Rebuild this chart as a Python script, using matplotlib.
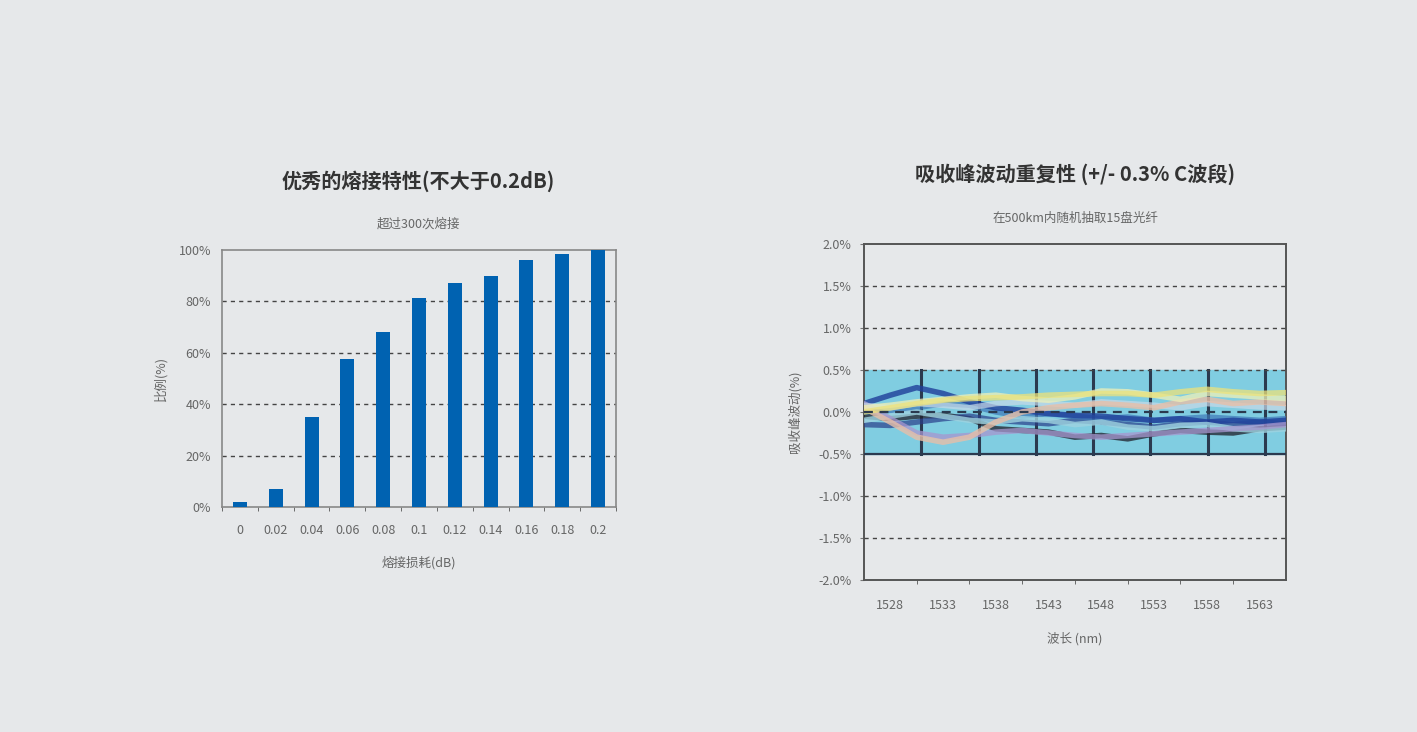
import numpy as np
import matplotlib.pyplot as plt

plt.rcParams['font.family'] = ['Noto Sans CJK SC', 'DejaVu Sans']

# left chart: splice loss distribution
loss_labels = ['0', '0.02', '0.04', '0.06', '0.08', '0.1', '0.12', '0.14', '0.16', '0.18', '0.2']
ratio = [2, 7, 35, 57.5, 68, 81.5, 87, 90, 96, 98.5, 100]

# right chart: absorption peak fluctuation, 15 fibres
wl = [1525.5, 1528, 1530.5, 1533, 1535.5, 1538, 1540.5, 1543, 1545.5,
      1548, 1550.5, 1553, 1555.5, 1558, 1560.5, 1563, 1565.5]
wl_ticks = [1528, 1533, 1538, 1543, 1548, 1553, 1558, 1563]
band_marks = [1530.9, 1536.4, 1541.8, 1547.2, 1552.6, 1558.1, 1563.5]

# (colour, alpha, values) -- dark ones first, pale ones drawn over them
curves = [
    ('#20202a', 0.75, [-0.05, -0.08, -0.05, -0.04, -0.08, -0.20, -0.22, -0.24, -0.30, -0.28, -0.32, -0.26, -0.22, -0.24, -0.25, -0.20, -0.18]),
    ('#2a3f8a', 0.7, [-0.15, -0.16, -0.12, -0.08, -0.05, -0.10, -0.12, -0.14, -0.10, -0.12, -0.15, -0.18, -0.14, -0.12, -0.15, -0.12, -0.14]),
    ('#3f78b8', 0.7, [0.00, 0.02, 0.05, 0.10, 0.08, 0.00, -0.05, -0.02, -0.05, -0.08, -0.06, -0.10, -0.08, -0.06, -0.08, -0.10, -0.08]),
    ('#1f3f9a', 0.8, [0.10, 0.20, 0.29, 0.22, 0.12, 0.05, 0.02, -0.02, -0.04, -0.05, -0.08, -0.10, -0.08, -0.12, -0.10, -0.12, -0.10]),
    ('#9fd3e0', 0.8, [-0.10, -0.05, 0.00, -0.05, -0.10, -0.12, -0.08, -0.10, -0.15, -0.12, -0.18, -0.20, -0.16, -0.15, -0.20, -0.22, -0.20]),
    ('#a796cf', 0.75, [0.10, -0.08, -0.25, -0.30, -0.28, -0.24, -0.22, -0.25, -0.28, -0.30, -0.28, -0.26, -0.24, -0.22, -0.20, -0.18, -0.15]),
    ('#c8d9e8', 0.7, [0.08, 0.05, 0.10, 0.08, 0.05, 0.10, 0.12, 0.10, 0.08, 0.12, 0.10, 0.08, 0.05, 0.10, 0.08, 0.06, 0.05]),
    ('#e8bfa8', 0.8, [0.05, -0.12, -0.30, -0.36, -0.30, -0.12, 0.00, 0.05, 0.08, 0.10, 0.08, 0.05, 0.12, 0.15, 0.10, 0.12, 0.10]),
    ('#eef0b8', 0.75, [0.05, 0.08, 0.12, 0.15, 0.18, 0.20, 0.16, 0.14, 0.18, 0.25, 0.24, 0.20, 0.15, 0.22, 0.20, 0.18, 0.16]),
    ('#ece27a', 0.75, [0.00, 0.05, 0.10, 0.14, 0.16, 0.17, 0.18, 0.20, 0.21, 0.22, 0.22, 0.20, 0.24, 0.27, 0.24, 0.22, 0.23]),
]

bg = '#e6e8ea'
txt = '#333333'
tick_c = '#666666'

fig = plt.figure(figsize=(14.17, 7.32), dpi=100, facecolor=bg)

# ---------- left ----------
ax1 = fig.add_axes([0.1567, 0.3074, 0.278, 0.351], facecolor=bg)
x = np.arange(len(ratio))
ax1.bar(x, ratio, width=0.39, color='#0062b1', zorder=3)
ax1.set_xlim(-0.5, len(ratio) - 0.5)
ax1.set_ylim(0, 100)
ax1.set_yticks([0, 20, 40, 60, 80, 100])
ax1.set_yticklabels(['%d%%' % v for v in [0, 20, 40, 60, 80, 100]])
for v in [20, 40, 60, 80]:
    ax1.axhline(v, color='#444444', lw=1, ls=(0, (3, 3)), zorder=1)
ax1.set_xticks(x)
ax1.set_xticklabels(loss_labels)
ax1.set_xticks(np.arange(-0.5, len(ratio)), minor=True)
ax1.tick_params(axis='x', which='major', length=0, pad=12, labelsize=9, colors=tick_c)
ax1.tick_params(axis='x', which='minor', length=3, direction='out', color='#555555')
ax1.tick_params(axis='y', length=0, pad=8, labelsize=9, colors=tick_c)
for s in ax1.spines.values():
    s.set_color('#888888')
    s.set_linewidth(1.2)
ax1.set_xlabel('熔接损耗(dB)', fontsize=9, color=tick_c, labelpad=14)
ax1.set_ylabel('比例(%)', fontsize=9, color=tick_c, labelpad=8)
fig.text(0.295, 0.752, '优秀的熔接特性(不大于0.2dB)', ha='center', va='center',
         fontsize=14.5, fontweight='bold', color=txt)
fig.text(0.295, 0.694, '超过300次熔接', ha='center', va='center', fontsize=9, color=tick_c)

# ---------- right ----------
ax2 = fig.add_axes([0.6097, 0.2077, 0.2978, 0.459], facecolor=bg)
ax2.set_xlim(1525.5, 1565.5)
ax2.set_ylim(-2.0, 2.0)
ax2.axhspan(-0.5, 0.5, color='#80cde1', zorder=1)
for m in band_marks:
    ax2.plot([m, m], [-0.5, 0.5], color='#2b3a4f', lw=2.2, zorder=2)
for col, a, vals in curves:
    ax2.plot(wl, vals, color=col, lw=4, alpha=a, solid_capstyle='round', zorder=3)
ax2.plot([1525.5, 1565.5], [0, 0], color='#2b3a4f', lw=1.6, ls=(0, (4, 3)), zorder=4)
ax2.plot([1525.5, 1565.5], [-0.5, -0.5], color='#2b3a4f', lw=1.6, zorder=4)
for v in [1.5, 1.0, 0.5, -1.0, -1.5]:
    ax2.axhline(v, color='#444444', lw=1, ls=(0, (3, 3)), zorder=4)
yt = [2.0, 1.5, 1.0, 0.5, 0.0, -0.5, -1.0, -1.5, -2.0]
ax2.set_yticks(yt)
ax2.set_yticklabels(['%.1f%%' % v for v in yt])
ax2.set_xticks(wl_ticks)
ax2.set_xticks(np.arange(1530.5, 1565, 5), minor=True)
ax2.tick_params(axis='x', which='major', length=0, pad=14, labelsize=9, colors=tick_c)
ax2.tick_params(axis='x', which='minor', length=3, direction='out', color='#555555')
ax2.tick_params(axis='y', length=3, direction='out', pad=6, labelsize=9, colors=tick_c, color='#777777')
for s in ax2.spines.values():
    s.set_color('#555555')
    s.set_linewidth(1.4)
ax2.set_xlabel('波长 (nm)', fontsize=9, color=tick_c, labelpad=14)
ax2.set_ylabel('吸收峰波动(%)', fontsize=9, color=tick_c, labelpad=12)
fig.text(0.759, 0.762, '吸收峰波动重复性 (+/- 0.3% C波段)', ha='center', va='center',
         fontsize=14.5, fontweight='bold', color=txt)
fig.text(0.759, 0.702, '在500km内随机抽取15盘光纤', ha='center', va='center', fontsize=9, color=tick_c)

fig.savefig('out.png', dpi=100, facecolor=bg)
